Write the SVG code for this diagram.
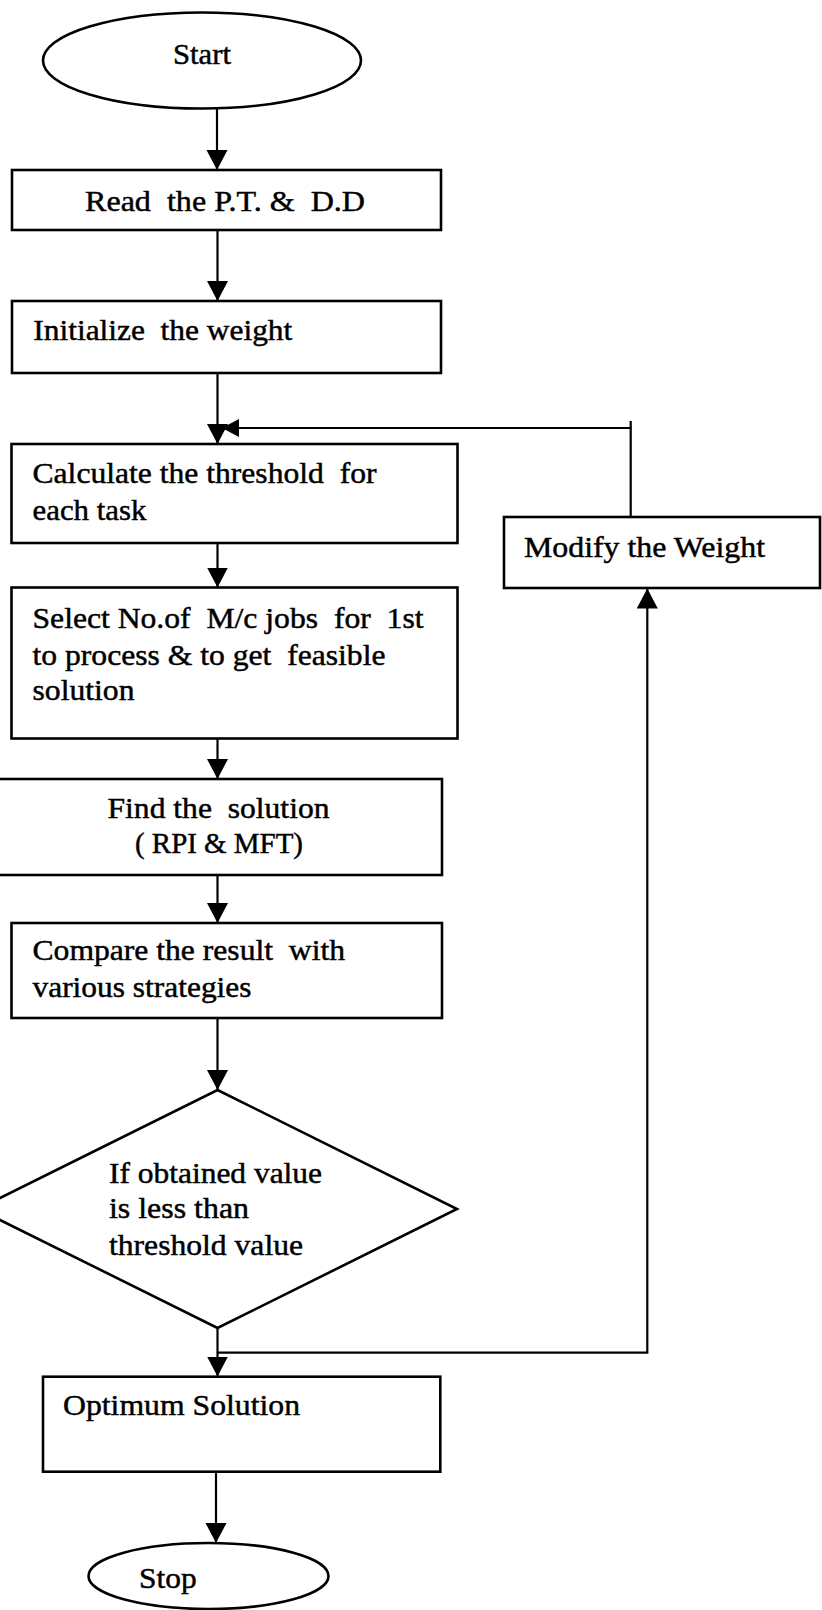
<svg xmlns="http://www.w3.org/2000/svg" width="822" height="1610" viewBox="0 0 822 1610">
<style>
.box{fill:#fff;stroke:#000;stroke-width:2.6}
.ln{fill:none;stroke:#000;stroke-width:2.2}
.t{font-family:"Liberation Serif","Times New Roman",serif;font-size:29px;fill:#000;stroke:#000;stroke-width:0.45;white-space:pre}
</style>
<defs>
<marker id="ah" markerUnits="userSpaceOnUse" markerWidth="22" markerHeight="22" refX="20" refY="10.5" orient="auto">
<path d="M0,0 L20,10.5 L0,21 z" fill="#000"/>
</marker>
<marker id="ahs" markerUnits="userSpaceOnUse" markerWidth="19" markerHeight="19" refX="17" refY="9" orient="auto">
<path d="M0,0 L17,9 L0,18 z" fill="#000"/>
</marker>
</defs>
<rect width="822" height="1610" fill="#fff"/>
<g id="connectors">
<line class="ln" x1="217" y1="109" x2="217" y2="170" marker-end="url(#ah)"/>
<line class="ln" x1="217.5" y1="230" x2="217.5" y2="301" marker-end="url(#ah)"/>
<line class="ln" x1="217.5" y1="373" x2="217.5" y2="444" marker-end="url(#ah)"/>
<polyline class="ln" points="630.7,421 630.7,428 222,428" marker-end="url(#ahs)"/>
<line class="ln" x1="630.7" y1="428" x2="630.7" y2="517"/>
<line class="ln" x1="217.5" y1="543" x2="217.5" y2="587.5" marker-end="url(#ah)"/>
<line class="ln" x1="217.5" y1="738" x2="217.5" y2="779" marker-end="url(#ah)"/>
<line class="ln" x1="217.5" y1="875" x2="217.5" y2="923" marker-end="url(#ah)"/>
<line class="ln" x1="217.5" y1="1018" x2="217.5" y2="1090" marker-end="url(#ah)"/>
<line class="ln" x1="217.5" y1="1328" x2="217.5" y2="1376.5" marker-end="url(#ah)"/>
<polyline class="ln" points="217.5,1352.7 647.3,1352.7 647.3,588.5" marker-end="url(#ah)"/>
<line class="ln" x1="216" y1="1472" x2="216" y2="1543" marker-end="url(#ah)"/>
</g>
<g id="start">
<ellipse class="box" cx="202" cy="60.5" rx="159" ry="48"/>
<text class="t" x="202" y="64" text-anchor="middle" textLength="58" lengthAdjust="spacingAndGlyphs">Start</text>
</g>
<g id="read">
<rect class="box" x="12" y="170" width="429" height="60"/>
<text class="t" x="85" y="211" textLength="280" lengthAdjust="spacingAndGlyphs">Read  the P.T. &amp;  D.D</text>
</g>
<g id="init">
<rect class="box" x="12" y="301" width="429" height="72"/>
<text class="t" x="33.3" y="340" textLength="259" lengthAdjust="spacingAndGlyphs">Initialize  the weight</text>
</g>
<g id="calc">
<rect class="box" x="11.5" y="444" width="446" height="99"/>
<text class="t" x="32.5" y="483.3" textLength="344" lengthAdjust="spacingAndGlyphs">Calculate the threshold  for</text>
<text class="t" x="32.5" y="520" textLength="114" lengthAdjust="spacingAndGlyphs">each task</text>
</g>
<g id="modify">
<rect class="box" x="504" y="517" width="316" height="71"/>
<text class="t" x="524" y="556.7" textLength="241" lengthAdjust="spacingAndGlyphs">Modify the Weight</text>
</g>
<g id="select">
<rect class="box" x="11.5" y="587.5" width="446" height="151"/>
<text class="t" x="32.5" y="628.3" textLength="391" lengthAdjust="spacingAndGlyphs">Select No.of  M/c jobs  for  1st</text>
<text class="t" x="32.5" y="665" textLength="353" lengthAdjust="spacingAndGlyphs">to process &amp; to get  feasible</text>
<text class="t" x="32.5" y="700" textLength="102" lengthAdjust="spacingAndGlyphs">solution</text>
</g>
<g id="find">
<rect class="box" x="-3" y="779" width="445" height="96"/>
<text class="t" x="218.5" y="818.3" text-anchor="middle" textLength="222" lengthAdjust="spacingAndGlyphs">Find the  solution</text>
<text class="t" x="219" y="853.3" text-anchor="middle" textLength="168" lengthAdjust="spacingAndGlyphs">( RPI &amp; MFT)</text>
</g>
<g id="compare">
<rect class="box" x="11.5" y="923" width="430.5" height="95"/>
<text class="t" x="32.5" y="960" textLength="312.5" lengthAdjust="spacingAndGlyphs">Compare the result  with</text>
<text class="t" x="32.5" y="997.3" textLength="219" lengthAdjust="spacingAndGlyphs">various strategies</text>
</g>
<g id="decision">
<polygon class="box" points="217.5,1090 457,1209 217.5,1328 -22,1209"/>
<text class="t" x="109" y="1183.3" textLength="213" lengthAdjust="spacingAndGlyphs">If obtained value</text>
<text class="t" x="109" y="1218.3" textLength="140" lengthAdjust="spacingAndGlyphs">is less than</text>
<text class="t" x="109" y="1255" textLength="194" lengthAdjust="spacingAndGlyphs">threshold value</text>
</g>
<g id="optimum">
<rect class="box" x="43" y="1376.7" width="397.3" height="95"/>
<text class="t" x="63" y="1415" textLength="237" lengthAdjust="spacingAndGlyphs">Optimum Solution</text>
</g>
<g id="stop">
<ellipse class="box" cx="208.5" cy="1576" rx="120" ry="33"/>
<text class="t" x="139" y="1588" textLength="57.6" lengthAdjust="spacingAndGlyphs">Stop</text>
</g>
</svg>
